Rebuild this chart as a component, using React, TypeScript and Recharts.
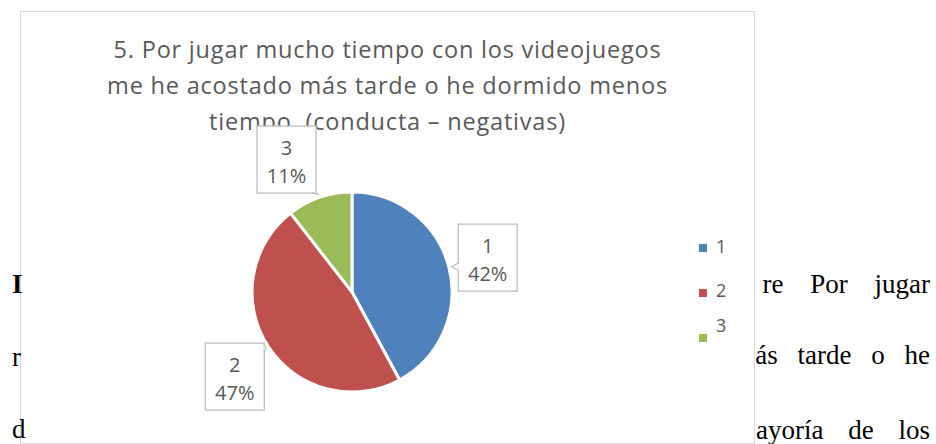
import { Cell, Legend, Pie, PieChart } from 'recharts'

const CATEGORIES = ['1', '2', '3']
const COUNTS = [8, 9, 2]
const COLORS = ['#4f81bd', '#c0504d', '#9bbb59']
const TITLE_LINES = [
  '5. Por jugar mucho tiempo con los videojuegos',
  'me he acostado más tarde o he dormido menos',
  'tiempo. (conducta – negativas)',
]

const data = CATEGORIES.map((name, i) => ({ name, value: COUNTS[i] }))

const TXT = '#595959'
const FONT = '"Open Sans"'
const RAD = Math.PI / 180
// small nudges so the callouts sit like the original (avoid the title)
const NUDGE: Record<number, [number, number]> = { 0: [0, 0], 1: [0, 8], 2: [-20, 0] }

function polar(cx: number, cy: number, r: number, deg: number) {
  return { x: cx + r * Math.cos(-deg * RAD), y: cy + r * Math.sin(-deg * RAD) }
}

function Callout(props: any) {
  const { cx, cy, midAngle, outerRadius, percent, name, index } = props
  const w = 59
  const h = 67
  const c = polar(cx, cy, outerRadius + 40, midAngle)
  const [nx, ny] = NUDGE[index] ?? [0, 0]
  const left = c.x + nx - w / 2
  const top = c.y + ny - h / 2
  const right = left + w
  const bottom = top + h
  const a = polar(cx, cy, outerRadius + 3, midAngle)
  const px = Math.min(Math.max(a.x, left), right)
  const py = Math.min(Math.max(a.y, top), bottom)
  let notch = ''
  if (a.y >= top && a.y <= bottom) {
    const y1 = Math.max(top + 1, py - 4)
    const y2 = Math.min(bottom - 1, py + 4)
    const ex = px === left ? left + 0.5 : right - 0.5
    notch = `M${ex},${y1} L${a.x},${a.y} L${ex},${y2}`
  } else {
    const x1 = Math.max(left + 1, px - 4)
    const x2 = Math.min(right - 1, px + 4)
    const ey = py === top ? top + 0.5 : bottom - 0.5
    notch = `M${x1},${ey} L${a.x},${a.y} L${x2},${ey}`
  }
  const mx = left + w / 2
  return (
    <g>
      <rect x={left} y={top} width={w} height={h} fill="#fff" stroke="#bfbfbf" strokeWidth={1.3} />
      <path d={notch} fill="#fff" stroke="#bfbfbf" strokeWidth={1.3} />
      <text x={mx} y={top + 29} textAnchor="middle" fill={TXT} fontSize={20} fontFamily={FONT}>
        {name}
      </text>
      <text x={mx} y={top + 57} textAnchor="middle" fill={TXT} fontSize={20} fontFamily={FONT}>
        {`${Math.round(percent * 100)}%`}
      </text>
    </g>
  )
}

function LegendBox() {
  return (
    <div style={{ position: 'relative', width: 40, height: 110, fontFamily: FONT, fontSize: 18, color: TXT }}>
      {CATEGORIES.map((c, i) => (
        <div key={c}>
          <span style={{ position: 'absolute', left: 0, top: i * 45 - 4, width: 8, height: 8, background: COLORS[i] }} />
          <span style={{ position: 'absolute', left: 17, top: i * 44 - 12 - (i === 2 ? 9 : 0), lineHeight: '20px' }}>{c}</span>
        </div>
      ))}
    </div>
  )
}

export default function App() {
  return (
    <div style={{ position: 'absolute', left: 0, top: 0, width: 936, height: 444, overflow: 'hidden', background: '#fff' }}>
      <div
        style={{
          position: 'absolute', left: 20, top: 11, width: 735, height: 433,
          border: '1px solid #d9d9d9', boxSizing: 'border-box', background: '#fff',
        }}
      >
        <div
          style={{
            position: 'absolute', left: 0, top: 19, width: '100%', textAlign: 'center',
            fontFamily: FONT, fontSize: 23.5, letterSpacing: 0.8, lineHeight: '36px', color: TXT,
          }}
        >
          {TITLE_LINES.map((t) => (
            <div key={t}>{t}</div>
          ))}
        </div>
        <PieChart width={733} height={431} style={{ position: 'absolute', left: 0, top: 0 }}>
          <Pie
            data={data}
            dataKey="value"
            nameKey="name"
            cx={326}
            cy={275}
            outerRadius={100}
            startAngle={90}
            endAngle={-270}
            stroke="#fff"
            strokeWidth={3}
            label={Callout}
            labelLine={false}
            isAnimationActive={false}
          >
            {data.map((d, i) => (
              <Cell key={d.name} fill={COLORS[i]} />
            ))}
          </Pie>
          <Legend content={LegendBox} wrapperStyle={{ position: 'absolute', left: 678, top: 236, width: 40 }} />
        </PieChart>
      </div>
      <svg width={936} height={444} style={{ position: 'absolute', left: 0, top: 0, pointerEvents: 'none' }}>
        <g fontFamily="Liberation Serif" fontSize={27} fill="#000">
          <text x={12} y={293} fontWeight="bold">I</text>
          <text x={12} y={366}>r</text>
          <text x={12} y={438}>d</text>
          <text x={930} y={293} textAnchor="end" wordSpacing={20}>re Por jugar</text>
          <text x={930} y={364} textAnchor="end" wordSpacing={13}>ás tarde o he</text>
          <text x={930} y={439} textAnchor="end" wordSpacing={18}>ayoría de los</text>
        </g>
      </svg>
    </div>
  )
}
